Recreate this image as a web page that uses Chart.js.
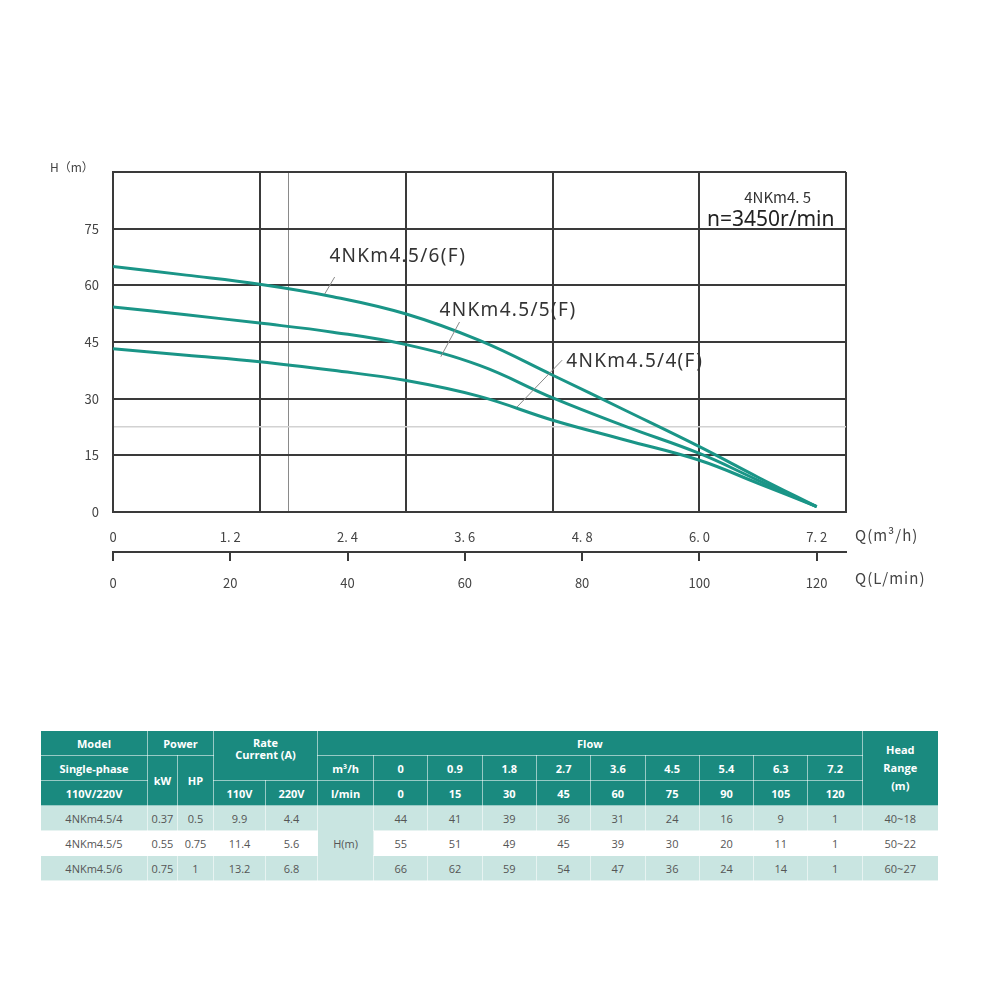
<!DOCTYPE html>
<html>
<head>
<meta charset="utf-8">
<script src="https://cdn.jsdelivr.net/npm/chart.js@4.4.1/dist/chart.umd.min.js"></script>
<style>
  body { margin: 0; background: #fff; width: 1000px; height: 1000px; position: relative; overflow: hidden; font-family: "Open Sans", sans-serif; }
  #wrap { position: absolute; left: 0; top: 140px; width: 1000px; height: 460px; }
  #spec { position: absolute; left: 40px; top: 730px; width: 898px; border-collapse: collapse; table-layout: fixed; font-size: 11px; }
  #spec td, #spec th { height: 24px; padding: 0; text-align: center; border: 1px solid rgba(255,255,255,0.55); }
  #spec th { background: #1a8a7f; color: #fff; font-weight: 700; }
  #spec td { color: #555; }
  #spec tr.alt td { background: #c9e5e1; }
  #spec td.hm { background: linear-gradient(#c9e5e1 0 33.3%, #fff 33.3% 66.6%, #c9e5e1 66.6%); }
</style>
</head>
<body>
<div id="wrap"><canvas id="pumpChart"></canvas></div>
<table id="spec"></table>
<script>
// curve values (Q in L/min, H in m)
const flowLmin = [0, 12.5, 25, 37.5, 50, 62.5, 75, 87.5, 100, 110, 120];
const head4 = [43.2, 41.5, 39.8, 37.5, 34.8, 30.6, 24.3, 19.0, 13.7, 7.6, 1.4];
const head5 = [54.3, 52.2, 50.0, 47.6, 44.3, 38.8, 30.2, 22.6, 15.5, 8.4, 1.4];
const head6 = [65.0, 62.7, 60.3, 57.0, 52.4, 45.4, 36.2, 26.8, 17.3, 9.2, 1.4];

// axis ticks
const hTicks = [0, 15, 30, 45, 60, 75, 90];
const gridLmin = [0, 25, 50, 75, 100, 125];
const ticksLmin = [0, 20, 40, 60, 80, 100, 120];
const ticksM3h = [0, 1.2, 2.4, 3.6, 4.8, 6.0, 7.2];

// table data
const models = ['4NKm4.5/4', '4NKm4.5/5', '4NKm4.5/6'];
const powerKw = ['0.37', '0.55', '0.75'];
const powerHp = ['0.5', '0.75', '1'];
const current110 = ['9.9', '11.4', '13.2'];
const current220 = ['4.4', '5.6', '6.8'];
const tableM3h = ['0', '0.9', '1.8', '2.7', '3.6', '4.5', '5.4', '6.3', '7.2'];
const tableLmin = ['0', '15', '30', '45', '60', '75', '90', '105', '120'];
const tableHead4 = [44, 41, 39, 36, 31, 24, 16, 9, 1];
const tableHead5 = [55, 51, 49, 45, 39, 30, 20, 11, 1];
const tableHead6 = [66, 62, 59, 54, 47, 36, 24, 14, 1];
const headRange = ['40~18', '50~22', '60~27'];

const lineColor = '#1a9587';
const gridDark = '#3a3a3a';
const tickFont = { family: '"Noto Sans CJK SC", "DejaVu Sans", sans-serif', size: 13 };

const curveLabels = [
    { text: '4NKm4.5/6(F)', q: 36.9, h: 67.5, from: [36.1, 57.7], to: [37.8, 62.2] },
    { text: '4NKm4.5/5(F)', q: 55.7, h: 53.4, from: [55.9, 41.1], to: [59.1, 50.3] },
    { text: '4NKm4.5/4(F)', q: 77.3, h: 39.7, from: [68.9, 27.8], to: [76.6, 40.2] }
];

const annotations = {
    id: 'annotations',
    afterDraw(chart) {
        const { ctx, chartArea: a, scales } = chart;
        const x = scales.x, y = scales.y;
        ctx.save();
        ctx.fillStyle = '#444';
        ctx.textBaseline = 'middle';

        // axis names
        ctx.font = '12px "Noto Sans CJK SC", sans-serif';
        ctx.textAlign = 'left';
        ctx.fillText('H（m）', 50, a.top - 5);
        ctx.font = '15px "Noto Sans CJK SC", sans-serif';
        ctx.letterSpacing = '1px';
        ctx.fillText('Q(m³/h)', a.right + 9, scales.x2.top + 23);
        ctx.fillText('Q(L/min)', a.right + 9, scales.x3.top + 26);

        // curve names + leader lines
        ctx.strokeStyle = '#888';
        ctx.lineWidth = 1;
        ctx.fillStyle = '#333';
        ctx.font = '19px "Noto Sans", sans-serif';
        ctx.letterSpacing = '1.3px';
        curveLabels.forEach(l => {
            ctx.beginPath();
            ctx.moveTo(x.getPixelForValue(l.from[0]), y.getPixelForValue(l.from[1]));
            ctx.lineTo(x.getPixelForValue(l.to[0]), y.getPixelForValue(l.to[1]));
            ctx.stroke();
            ctx.fillText(l.text, x.getPixelForValue(l.q), y.getPixelForValue(l.h));
        });

        // model box in top-right cell
        const cx = x.getPixelForValue(112.5);
        ctx.letterSpacing = '0px';
        ctx.textAlign = 'center';
        ctx.font = '15px "Noto Sans CJK SC", sans-serif';
        ctx.fillText('4NKm4. 5', cx + 5, y.getPixelForValue(83.3));
        ctx.font = '21px "Noto Sans", sans-serif';
        ctx.fillStyle = '#222';
        ctx.fillText('n=3450r/min', cx - 2, y.getPixelForValue(77.2));
        ctx.restore();
    }
};

function makeSet(label, data) {
    return {
        label: label,
        data: flowLmin.map((q, i) => ({ x: q, y: data[i] })),
        borderColor: lineColor,
        borderWidth: 3,
        pointRadius: 0,
        tension: 0.4,
        fill: false
    };
}

new Chart(document.getElementById('pumpChart'), {
    type: 'line',
    data: {
        datasets: [
            makeSet('4NKm4.5/6(F)', head6),
            makeSet('4NKm4.5/5(F)', head5),
            makeSet('4NKm4.5/4(F)', head4)
        ]
    },
    options: {
        responsive: true,
        maintainAspectRatio: false,
        animation: false,
        layout: { padding: { left: 53, right: 154, top: 32, bottom: 0 } },
        plugins: { legend: { display: false }, tooltip: { enabled: false } },
        scales: {
            x: {
                type: 'linear', position: 'bottom', weight: 0, min: 0, max: 125,
                afterBuildTicks: s => { s.ticks = gridLmin.concat([30]).sort((p, q) => p - q).map(v => ({ value: v })); },
                afterFit: s => { s.height = 0; },
                ticks: { display: false },
                grid: {
                    drawTicks: false,
                    color: c => c.tick && c.tick.value === 30 ? '#8a8a8a' : gridDark,
                    lineWidth: c => c.tick && c.tick.value === 30 ? 1 : 2
                },
                border: { color: gridDark, width: 2 }
            },
            x2: {
                type: 'linear', position: 'bottom', weight: 1, min: 0, max: 7.5,
                afterBuildTicks: s => { s.ticks = ticksM3h.map(v => ({ value: v })); },
                afterFit: s => { s.height = 40; },
                ticks: {
                    padding: 17, color: '#444', font: tickFont, maxRotation: 0, autoSkip: false,
                    callback: v => v === 0 ? '0' : v.toFixed(1).replace('.', '. ')
                },
                grid: { display: false, drawTicks: false },
                border: { display: false }
            },
            x3: {
                type: 'linear', position: 'bottom', weight: 2, min: 0, max: 125,
                afterBuildTicks: s => { s.ticks = ticksLmin.map(v => ({ value: v })); },
                afterFit: s => { s.height = 48; },
                ticks: { padding: 14, color: '#444', font: tickFont, maxRotation: 0, autoSkip: false },
                grid: { drawOnChartArea: false, drawTicks: true, tickLength: 9, color: gridDark, lineWidth: 2 },
                border: { display: true, color: gridDark, width: 2 }
            },
            y: {
                type: 'linear', min: 0, max: 90,
                afterBuildTicks: s => { s.ticks = hTicks.concat([22.5]).sort((p, q) => p - q).map(v => ({ value: v })); },
                afterFit: s => { s.width = 60; },
                ticks: {
                    padding: 14, color: '#444', font: tickFont,
                    callback: v => (v === 22.5 || v === 90) ? '' : v
                },
                grid: {
                    drawTicks: false,
                    color: c => c.tick && c.tick.value === 22.5 ? '#d2d2d2' : gridDark,
                    lineWidth: c => c.tick && c.tick.value === 22.5 ? 1.5 : 2
                },
                border: { color: gridDark, width: 2 }
            }
        }
    },
    plugins: [annotations]
});

// spec table
function buildTable() {
    const cols = [107, 30, 36, 52, 52, 56].concat(tableM3h.map(() => 54.3)).concat([76]);
    let html = '<colgroup>' + cols.map(w => '<col style="width:' + w + 'px">').join('') + '</colgroup>';
    html += '<tr><th>Model</th><th colspan="2">Power</th>' +
        '<th colspan="2" rowspan="2" style="vertical-align:top;line-height:12px;padding-top:6px">Rate<br>Current (A)</th>' +
        '<th colspan="10">Flow</th><th rowspan="3" style="line-height:18px">Head<br>Range<br>(m)</th></tr>';
    html += '<tr><th>Single-phase</th><th rowspan="2">kW</th><th rowspan="2">HP</th><th>m³/h</th>' +
        tableM3h.map(v => '<th>' + v + '</th>').join('') + '</tr>';
    html += '<tr><th>110V/220V</th><th>110V</th><th>220V</th><th>l/min</th>' +
        tableLmin.map(v => '<th>' + v + '</th>').join('') + '</tr>';
    const heads = [tableHead4, tableHead5, tableHead6];
    models.forEach((m, i) => {
        html += '<tr class="' + (i === 1 ? '' : 'alt') + '"><td>' + m + '</td><td>' + powerKw[i] + '</td><td>' + powerHp[i] +
            '</td><td>' + current110[i] + '</td><td>' + current220[i] + '</td>' +
            (i === 0 ? '<td rowspan="3" class="hm">H(m)</td>' : '') +
            heads[i].map(v => '<td>' + v + '</td>').join('') + '<td>' + headRange[i] + '</td></tr>';
    });
    document.getElementById('spec').innerHTML = html;
}
buildTable();
</script>
</body>
</html>
